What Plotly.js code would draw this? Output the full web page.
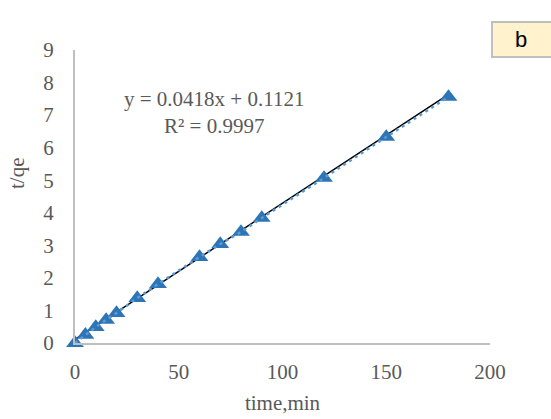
<!DOCTYPE html>
<html>
<head>
<meta charset="utf-8">
<script src="https://cdn.plot.ly/plotly-3.0.1.min.js"></script>
<style>html,body{margin:0;padding:0;background:#fff;}#chart{width:551px;height:419px;}</style>
</head>
<body>
<div id="chart"></div>
<script>
const timeMin = [0, 5, 10, 15, 20, 30, 40, 60, 70, 80, 90, 120, 150, 180];
const tqe = [0, 0.25, 0.49, 0.71, 0.92, 1.38, 1.81, 2.64, 3.04, 3.41, 3.84, 5.07, 6.33, 7.56];
const slope = 0.0418;
const intercept = 0.1121;
const xTicks = [0, 50, 100, 150, 200];
const yTicks = [0, 1, 2, 3, 4, 5, 6, 7, 8, 9];
const eqText = "y = 0.0418x + 0.1121<br>R² = 0.9997";
const panelLabel = "b";

const trendX = [timeMin[0], timeMin[timeMin.length - 1]];
const trendY = trendX.map(x => slope * x + intercept);

const serif = "Liberation Serif, Times New Roman, serif";
const grey = "#595959";

const traces = [
  {x: trendX, y: trendY, mode: "lines", line: {color: "#000000", width: 1.5}, hoverinfo: "skip", cliponaxis: false},
  {x: timeMin, y: tqe, mode: "markers", marker: {symbol: "triangle-up", size: 15.5, color: "#2e75b6"}, cliponaxis: false},
  {x: timeMin, y: tqe, mode: "lines", line: {color: "#5b9bd5", width: 2.5, dash: "3px,4px"}, hoverinfo: "skip", cliponaxis: false}
];

const layout = {
  width: 551, height: 419,
  margin: {l: 75, r: 61, t: 50, b: 76},
  showlegend: false,
  paper_bgcolor: "#ffffff", plot_bgcolor: "#ffffff",
  font: {family: serif, size: 21, color: grey},
  xaxis: {
    range: [0, 200], tickvals: xTicks, ticktext: xTicks.map(String),
    showgrid: false, zeroline: false, showline: true, linecolor: "#bfbfbf", linewidth: 2,
    ticks: "", ticklabelstandoff: 9,
    tickfont: {family: serif, size: 21, color: grey},
    title: {text: "time,min", font: {family: serif, size: 21, color: grey}, standoff: 12}
  },
  yaxis: {
    range: [0, 9], tickvals: yTicks, ticktext: yTicks.map(String),
    showgrid: false, zeroline: false, showline: true, linecolor: "#bfbfbf", linewidth: 2,
    ticks: "", ticklabelstandoff: 15,
    tickfont: {family: serif, size: 21, color: grey}
  },
  annotations: [
    {xref: "paper", yref: "paper", x: 0.335, y: 0.788, text: eqText, showarrow: false,
     font: {family: serif, size: 21, color: grey}, align: "center", xanchor: "center", yanchor: "middle"},
    {xref: "paper", yref: "paper", x: -0.14, y: 0.58, text: "t/qe", textangle: -90, showarrow: false,
     font: {family: serif, size: 21, color: grey}, xanchor: "center", yanchor: "middle"}
  ],
  shapes: [
    {type: "rect", xref: "paper", yref: "paper", x0: (492 - 75) / 415, x1: (556 - 75) / 415,
     y0: (343 - 57) / 293, y1: (343 - 22) / 293,
     fillcolor: "#fff2cc", line: {color: "#bfbfbf", width: 2}}
  ]
};
layout.annotations.push({xref: "paper", yref: "paper", x: (521 - 75) / 415, y: (343 - 39.5) / 293,
  text: panelLabel, showarrow: false, font: {family: "Liberation Sans, Arial, sans-serif", size: 22, color: "#000000"},
  xanchor: "center", yanchor: "middle"});

Plotly.newPlot("chart", traces, layout, {displayModeBar: false, staticPlot: true});
</script>
</body>
</html>
